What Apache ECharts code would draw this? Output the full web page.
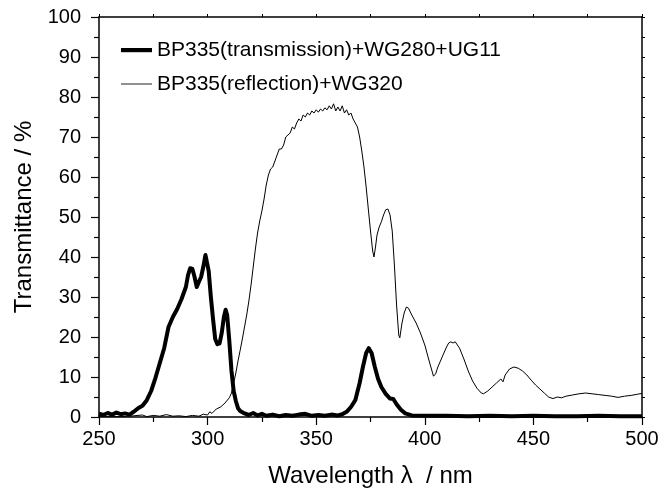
<!DOCTYPE html>
<html><head><meta charset="utf-8">
<script src="https://cdn.jsdelivr.net/npm/echarts@6/dist/echarts.min.js"></script>
<style>html,body{margin:0;padding:0;background:#fff}#c{width:659px;height:488px}</style>
</head><body><div id="c"></div>
<script>
// Data
const seriesNames = ['BP335(transmission)+WG280+UG11', 'BP335(reflection)+WG320'];
const xTickLabels = ['250','300','350','400','450','500'];
const yTickLabels = ['0','10','20','30','40','50','60','70','80','90','100'];

const lambdaThick = [250,252,254,256,258,260,262,264,266,268,270,272,274,276,278,280,282,284,286,288,290,291,292,293,294,295,296,297,298,299,299.8,300.5,301.5,302.5,303.5,304.5,305.5,306.5,307.5,308.3,309,310,311,312,313,314,315,317,319,321,323,325,327,330,333,336,339,342,345,348,351,354,357,360,362,364,366,368,370,371.5,373,374.2,375.5,377,378.5,380,382,384,385.5,387,389,391,394,400,410,420,430,440,450,460,470,480,490,500];
const transThick  = [0.8,0.5,1.0,0.6,1.1,0.7,0.9,0.6,1.3,2.2,2.8,4.2,6.5,9.8,13.5,17.2,22.5,25.0,27.0,29.5,32.5,35.5,37.2,37.0,35.0,32.5,33.8,35.0,37.5,40.5,40.2,36.5,30.0,24.5,19.5,18.2,18.4,21.0,25.0,26.8,25.5,19.0,11.5,6.5,4.0,2.2,1.5,0.9,0.5,1.0,0.4,0.8,0.3,0.6,0.2,0.5,0.3,0.6,0.8,0.3,0.5,0.3,0.6,0.4,0.7,1.3,2.5,4.2,8.5,12.5,16.0,17.2,16.0,12.5,9.5,7.5,5.8,4.6,4.5,3.2,1.8,0.9,0.4,0.3,0.3,0.2,0.3,0.2,0.3,0.2,0.2,0.3,0.2,0.2];

const lambdaThin = [250,260,266,270,272,275,278,281,284,287,290,293,296,298,300,301,302,304,306,308,310,311,312,313,314,315,316,317,318,319,320,321,322,323,324,325,326,327,328,329,330,331,332,333,334,335,336,337,338,339,340,341,342,343,344,345,346,347,348,349,350,351,352,353,354,355,356,357,358,359,360,361,362,363,364,365,366,367,368,369,370,371,372,373,374,375,376,376.6,377.3,378,379,380,381,382,383,384,385,386,387,388,388.5,389.5,390.5,391.5,392.5,394,396,398,400,402,404,405,406,408,410,411,412,413,414,416,418,420,422,424,426,427,429,431,433,435,436,437,439,441,443,445,447,449,451,453,455,457,459,461,463,465,468,471,474,477,480,483,486,489,492,495,498,500];
const transThin  = [0.1,0.1,0.3,0.5,0.1,0.4,0.2,0.6,0.2,0.3,0.1,0.4,0.2,0.7,0.5,1.3,0.9,2.0,2.5,3.5,4.8,6.0,8.5,11.0,14.0,16.7,19.5,22.5,25.5,29.0,33.0,37.5,42.0,46.0,49.0,51.5,54.5,58.0,60.5,62.0,62.5,64.0,65.5,67.0,67.0,68.0,70.0,70.5,71.0,72.5,72.0,73.5,74.5,74.0,75.5,75.0,76.0,75.5,76.5,76.0,76.8,76.2,77.0,76.5,77.3,76.8,77.8,77.0,78.3,76.5,77.5,76.5,77.8,76.0,76.8,75.5,76.0,74.5,73.5,72.5,70.0,66.5,62.5,57.5,52.0,46.5,41.5,40.0,42.5,45.5,47.5,48.8,50.5,51.8,52.0,50.5,46.5,38.0,28.0,20.5,19.8,23.5,26.0,27.5,27.2,25.5,23.5,21.0,18.0,14.0,10.2,10.8,12.5,15.0,17.5,18.5,18.8,18.5,18.8,17.2,14.5,11.5,9.0,7.2,6.0,5.8,6.5,7.5,8.5,9.5,8.8,10.5,12.0,12.5,12.2,11.5,10.5,9.2,8.0,7.0,6.0,5.0,4.6,5.0,4.8,5.2,5.5,5.8,6.0,5.8,5.6,5.4,5.2,4.9,5.2,5.4,5.7,5.9];

const zip = (xs, ys) => xs.map((x, i) => [x, ys[i]]);
const FONT = '"Liberation Sans", Arial, sans-serif';

const chart = echarts.init(document.getElementById('c'), null, {renderer: 'canvas'});
const black = '#000';
chart.setOption({
  animation: false,
  backgroundColor: '#fff',
  grid: {left: 99, right: 17, top: 17, bottom: 71, containLabel: false, outerBoundsMode: 'none'},
  legend: {
    orient: 'vertical', left: 116, top: 33, itemWidth: 31, itemHeight: 14, itemGap: 10,
    textStyle: {fontFamily: FONT, fontSize: 21, color: black, lineHeight: 24},
    data: [
      {name: seriesNames[0], icon: 'path://M0,0 M0,14 M0,5 L31,5 L31,9.2 L0,9.2 Z', itemStyle: {color: black}},
      {name: seriesNames[1], icon: 'path://M0,0 M0,14 M0,6.5 L31,6.5 L31,7.5 L0,7.5 Z', itemStyle: {color: '#222'}}
    ]
  },
  xAxis: [{
    type: 'value', min: 250, max: 500, interval: 50, position: 'bottom',
    name: 'Wavelength \u03bb  / nm', nameLocation: 'middle', nameGap: 47,
    nameTextStyle: {fontFamily: FONT, fontSize: 24, color: black},
    axisLine: {show: true, onZero: false, lineStyle: {color: black, width: 1.5}},
    axisTick: {show: true, inside: false, length: 8, lineStyle: {color: black, width: 1.2}},
    minorTick: {show: true, splitNumber: 2, length: 5, lineStyle: {color: black, width: 1.2}},
    axisLabel: {fontFamily: FONT, fontSize: 20, color: black, margin: 12,
      formatter: v => xTickLabels[xTickLabels.indexOf(String(v))] || String(v)},
    splitLine: {show: false}
  }, {
    type: 'value', min: 250, max: 500, interval: 25, position: 'top',
    axisLine: {show: true, onZero: false, lineStyle: {color: black, width: 1.5}},
    axisTick: {show: true, inside: false, length: 3, lineStyle: {color: black, width: 1}},
    axisLabel: {show: false}, splitLine: {show: false}
  }],
  yAxis: [{
    type: 'value', min: 0, max: 100, interval: 10, position: 'left',
    name: 'Transmittance / %', nameLocation: 'middle', nameGap: 63, nameRotate: 90,
    nameTextStyle: {fontFamily: FONT, fontSize: 24, color: black},
    axisLine: {show: true, onZero: false, lineStyle: {color: black, width: 1.5}},
    axisTick: {show: true, inside: false, length: 8, lineStyle: {color: black, width: 1.2}},
    minorTick: {show: true, splitNumber: 2, length: 5, lineStyle: {color: black, width: 1.2}},
    axisLabel: {fontFamily: FONT, fontSize: 20, color: black, margin: 18,
      formatter: v => yTickLabels[yTickLabels.indexOf(String(v))] || String(v)},
    splitLine: {show: false}
  }, {
    type: 'value', min: 0, max: 100, interval: 5, position: 'right',
    axisLine: {show: true, onZero: false, lineStyle: {color: black, width: 1.5}},
    axisTick: {show: true, inside: false, length: 3, lineStyle: {color: black, width: 1}},
    axisLabel: {show: false}, splitLine: {show: false}
  }],
  series: [{
    name: seriesNames[1], type: 'line', xAxisIndex: 0, yAxisIndex: 0,
    data: zip(lambdaThin, transThin), showSymbol: false, symbol: 'none',
    lineStyle: {color: black, width: 1}, itemStyle: {color: black}, z: 2
  }, {
    name: seriesNames[0], type: 'line', xAxisIndex: 0, yAxisIndex: 0,
    data: zip(lambdaThick, transThick), showSymbol: false, symbol: 'none',
    lineStyle: {color: black, width: 4, join: 'round'}, itemStyle: {color: black}, z: 3
  }]
});
</script></body></html>
